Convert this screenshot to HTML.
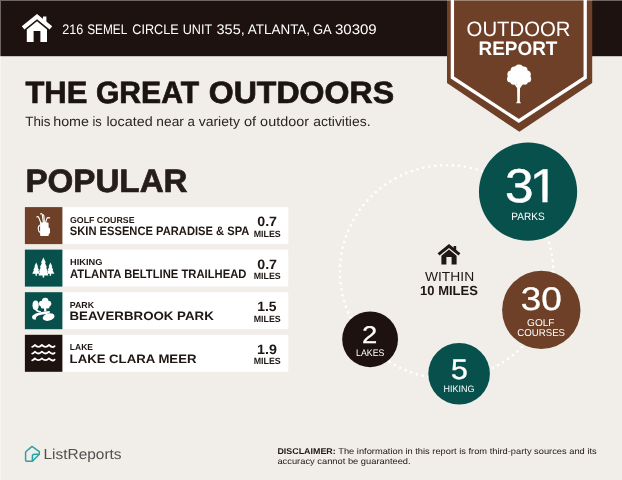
<!DOCTYPE html>
<html lang="en">
<head>
<meta charset="utf-8">
<title>Outdoor Report</title>
<style>
html,body{margin:0;padding:0;background:#f1ede9;}
body{width:622px;height:480px;overflow:hidden;font-family:"Liberation Sans",sans-serif;}
svg{display:block;position:absolute;left:0;top:0;}
text{font-family:"Liberation Sans",sans-serif;}
</style>
</head>
<body>
<svg width="622" height="480" viewBox="0 0 622 480">
<g style="filter:blur(0.3px)">
<rect x="-6" y="-6" width="634" height="492" fill="#f1ede9"/>
<!-- header -->
<rect x="-6" y="-6" width="634" height="62.2" fill="#1e1210"/>
<!-- header house icon -->
<g fill="#fff">
<path d="M37 14 L52.2 26.2 L49.6 29.4 L37 19.2 L24.4 29.4 L21.8 26.2 Z"/>
<path d="M43 16.6 h3.4 v7 l-3.4 -2.8 Z"/>
<path d="M37 21.2 L47 29.4 V42 H40.4 V31 H33.6 V42 H26.8 V29.4 Z"/>
</g>
<!-- badge -->
<path d="M447 -6 H592.2 V83 L519.4 131.8 L447 83 Z" fill="#6d4027"/>
<path d="M452.4 -6 V77.5 L518.8 121 L585.2 77.5 V-6" fill="none" stroke="#fff" stroke-width="3.3"/>
<!-- tree -->
<g fill="#fff">
<circle cx="519" cy="69.6" r="5"/><circle cx="514.6" cy="70.6" r="4"/><circle cx="523.6" cy="70.6" r="4"/>
<circle cx="511.4" cy="74.5" r="4"/><circle cx="526.8" cy="74.5" r="4"/>
<circle cx="510.6" cy="79" r="3.6"/><circle cx="527.6" cy="79" r="3.6"/>
<circle cx="513.6" cy="81.6" r="3.2"/><circle cx="524.6" cy="81.6" r="3.2"/><circle cx="519" cy="81.4" r="3.4"/>
<circle cx="519" cy="76" r="7"/>
<path d="M517.1 86 L517.3 101.2 L516 103.3 H521 L519.8 101.2 L520.1 86 Z"/>
<path d="M513.6 83.4 L517.6 88.4 L518.8 86.6 L515.4 83.2 Z M523.6 83.4 L519.6 88.4 L518.4 86.6 L521.8 83.2 Z"/>
<path d="M516.5 83 H521 L520.2 88 H517 Z"/>
</g>
<!-- rows -->
<g fill="#fff">
<rect x="62" y="207.1" width="226.3" height="37"/>
<rect x="62" y="249.6" width="226.3" height="37"/>
<rect x="62" y="292.2" width="226.3" height="37"/>
<rect x="62" y="334.8" width="226.3" height="37"/>
</g>
<rect x="24.9" y="207.1" width="37.5" height="37" fill="#6d4027"/>
<rect x="24.9" y="249.6" width="37.5" height="37" fill="#07504c"/>
<rect x="24.9" y="292.2" width="37.5" height="37" fill="#07504c"/>
<rect x="24.9" y="334.8" width="37.5" height="37" fill="#1e1210"/>
<!-- golf bag -->
<g fill="none" stroke="#fff" stroke-width="1.15" stroke-linecap="round" stroke-linejoin="round">
<path d="M40.9 223 L38.8 217.6 Q38 216 36.8 216.9"/>
<path d="M43.4 223 L42.3 214.6 Q41.8 213.2 40.6 213.9"/>
<path d="M44.4 223 L43.9 216 Q43.7 214.6 42.9 215"/>
<path d="M45.4 223 L46.9 218.4 Q47.6 217.2 49.6 217.9"/>
<path d="M40.2 225 Q38 226 38.3 229 Q38.6 231.8 40.2 232.4"/>
</g>
<path d="M40.6 222.6 H47.8 Q48.6 222.6 48.6 223.4 V227.6 Q50 227.8 50 229.2 V232.6 Q50 233.8 48.8 234 V235 Q48.8 235.9 47.9 235.9 H41 Q40.1 235.9 40.1 235 V223.2 Q40.1 222.6 40.6 222.6 Z" fill="#fff"/>
<!-- pines -->
<g fill="#fff">
<path d="M43.4 257.4 L45.9 262.8 H44.9 L47 267.4 H46 L48 271.8 H46.8 L48.4 275.4 H44.2 V277.4 H42.6 V275.4 H38.4 L40 271.8 H38.8 L40.8 267.4 H39.8 L41.9 262.8 H40.9 Z"/>
<path d="M36.2 262.6 L38.1 266.6 H37.4 L39 270 H38.3 L39.8 273.8 H36.9 V275.8 H35.5 V273.8 H32.2 L34 270 H33.3 L35 266.6 H34.3 Z"/>
<path d="M50.4 262.6 L52.3 266.6 H51.6 L53.2 270 H52.5 L54.3 273.8 H51.1 V275.8 H49.7 V273.8 H46.9 L48.4 270 H47.7 L49.3 266.6 H48.6 Z"/>
</g>
<!-- park -->
<g fill="#fff">
<circle cx="45.2" cy="300.9" r="3.2"/><circle cx="41.8" cy="303.6" r="2.9"/><circle cx="48.4" cy="303.6" r="2.9"/><circle cx="45.2" cy="304.8" r="3.4"/><circle cx="43" cy="306.4" r="2.2"/><circle cx="47.4" cy="306.4" r="2.2"/>
<path d="M44 307 L44.2 311.6 L46.4 311.4 L46.2 307 Z"/>
<ellipse cx="35.6" cy="305.2" rx="3.1" ry="4.7"/>
<path d="M34.8 309 Q35.6 312.4 40.6 312.6 L41 311 Q37.4 311.2 36.8 308.6 Z"/>
<path d="M49.8 311 Q45 311.6 40.4 312.2 Q35 313.2 32.6 315.6 Q31.2 317.6 32.8 319 Q34.2 319.8 36 319.4 Q35.6 318 36.6 316.6 Q38.4 314.9 42.6 314.6 Q46.6 314.4 49.8 312.8 Z"/>
<ellipse cx="48.6" cy="317.1" rx="6" ry="3.6" transform="rotate(-14 48.6 317.1)"/>
</g>
<!-- waves -->
<g fill="none" stroke="#fff" stroke-width="1.8" stroke-linecap="round" stroke-linejoin="round">
<path d="M32.2 346.9 Q33.6 346.7 34.9 345 Q38.4 348.6 41.9 345 Q45.5 348.6 49 345 Q52.4 348.4 54.6 346.2"/>
<path d="M32.2 353.6 Q33.6 353.4 34.9 351.7 Q38.4 355.3 41.9 351.7 Q45.5 355.3 49 351.7 Q52.4 355.1 54.6 352.9"/>
<path d="M32.2 360.3 Q33.6 360.1 34.9 358.4 Q38.4 362 41.9 358.4 Q45.5 362 49 358.4 Q52.4 361.8 54.6 359.6"/>
</g>
<!-- ring -->
<circle cx="446.6" cy="271.8" r="106.6" fill="none" stroke="#fff" stroke-width="2.6" stroke-dasharray="0.01 5.970" stroke-linecap="round"/>
<!-- circles -->
<circle cx="528.05" cy="191.7" r="49.1" fill="#07504c"/>
<circle cx="541.3" cy="309.9" r="39.2" fill="#6d4027"/>
<circle cx="459.1" cy="373.7" r="30.8" fill="#07504c"/>
<circle cx="370.1" cy="339.3" r="27.9" fill="#1e1210"/>
<!-- center house -->
<g fill="#1f1713">
<path d="M449 244 L460.4 253.2 L458.5 255.6 L449 247.9 L439.5 255.6 L437.6 253.2 Z"/>
<path d="M453.6 246 h2.6 v5 l-2.6 -2.1 Z"/>
<path d="M449 249.6 L456.6 255.8 V264.4 H451.6 V257 H446.4 V264.4 H441.4 V255.8 Z"/>
</g>
<!-- logo -->
<g fill="none" stroke="#2ca3a3" stroke-width="1.5" stroke-linejoin="round" stroke-linecap="round">
<path d="M39.3 454.2 H34.4 Q32.4 454.2 32.4 456.2 V461.2 Z" fill="#c9f3f0" stroke="none"/>
<path d="M25.6 452 L32 446.4 L39.3 451.6 V454.2 L32.4 461.2 H26.6 Q25.6 461.2 25.6 460.2 Z"/>
<path d="M39.3 454.2 H34.4 Q32.4 454.2 32.4 456.2 V461.2"/>
</g>

<defs><clipPath id="c1"><path d="M500 150 H560 V197.40 H547.55 V206 H542.40 V197.40 H533 V206 H500 Z"/></clipPath></defs>
<g id="texts">
<text id="addr0" transform="translate(62.15 34.05) skewX(0.03)" font-size="13.8" fill="#fff" textLength="21.07" lengthAdjust="spacingAndGlyphs">216</text>
<text id="addr1" transform="translate(87.17 34.05) skewX(0.03)" font-size="13.8" fill="#fff" textLength="40.10" lengthAdjust="spacingAndGlyphs">SEMEL</text>
<text id="addr2" transform="translate(132.28 34.05) skewX(0.03)" font-size="13.8" fill="#fff" textLength="46.29" lengthAdjust="spacingAndGlyphs">CIRCLE</text>
<text id="addr3" transform="translate(182.75 34.05) skewX(0.03)" font-size="13.8" fill="#fff" textLength="29.46" lengthAdjust="spacingAndGlyphs">UNIT</text>
<text id="addr4" transform="translate(216.54 34.05) skewX(0.03)" font-size="13.8" fill="#fff" textLength="28.18" lengthAdjust="spacingAndGlyphs">355,</text>
<text id="addr5" transform="translate(247.85 34.05) skewX(0.03)" font-size="13.8" fill="#fff" textLength="62.18" lengthAdjust="spacingAndGlyphs">ATLANTA,</text>
<text id="addr6" transform="translate(313.03 34.05) skewX(0.03)" font-size="13.8" fill="#fff" textLength="18.73" lengthAdjust="spacingAndGlyphs">GA</text>
<text id="addr7" transform="translate(334.89 34.05) skewX(0.03)" font-size="13.8" fill="#fff" textLength="41.85" lengthAdjust="spacingAndGlyphs">30309</text>
<text id="outdoor" transform="translate(466.59 36.45) skewX(0.03)" font-size="20.8" fill="#fff" textLength="103.95" lengthAdjust="spacingAndGlyphs">OUTDOOR</text>
<text id="report" transform="translate(478.45 54.70) skewX(0.03)" font-size="19.6" fill="#fff" font-weight="700" textLength="78.98" lengthAdjust="spacingAndGlyphs">REPORT</text>
<text id="the" transform="translate(25.44 103.15) skewX(0.03)" font-size="30.8" fill="#1c1411" font-weight="700" stroke="#1c1411" stroke-width="0.7" textLength="61.89" lengthAdjust="spacingAndGlyphs">THE</text>
<text id="great" transform="translate(95.93 103.15) skewX(0.03)" font-size="30.8" fill="#1c1411" font-weight="700" stroke="#1c1411" stroke-width="0.7" textLength="103.14" lengthAdjust="spacingAndGlyphs">GREAT</text>
<text id="outdoors" transform="translate(208.67 103.15) skewX(0.03)" font-size="30.8" fill="#1c1411" font-weight="700" stroke="#1c1411" stroke-width="0.7" textLength="185.48" lengthAdjust="spacingAndGlyphs">OUTDOORS</text>
<text id="sub0" transform="translate(25.19 125.75) skewX(0.03)" font-size="13.5" fill="#2b2522" textLength="25.34" lengthAdjust="spacingAndGlyphs">This</text>
<text id="sub1" transform="translate(53.17 125.75) skewX(0.03)" font-size="13.5" fill="#2b2522" textLength="35.84" lengthAdjust="spacingAndGlyphs">home</text>
<text id="sub2" transform="translate(92.51 125.75) skewX(0.03)" font-size="13.5" fill="#2b2522" textLength="9.26" lengthAdjust="spacingAndGlyphs">is</text>
<text id="sub3" transform="translate(106.41 125.75) skewX(0.03)" font-size="13.5" fill="#2b2522" textLength="46.27" lengthAdjust="spacingAndGlyphs">located</text>
<text id="sub4" transform="translate(156.36 125.75) skewX(0.03)" font-size="13.5" fill="#2b2522" textLength="27.53" lengthAdjust="spacingAndGlyphs">near</text>
<text id="sub5" transform="translate(187.41 125.75) skewX(0.03)" font-size="13.5" fill="#2b2522" textLength="7.39" lengthAdjust="spacingAndGlyphs">a</text>
<text id="sub6" transform="translate(198.63 125.75) skewX(0.03)" font-size="13.5" fill="#2b2522" textLength="41.26" lengthAdjust="spacingAndGlyphs">variety</text>
<text id="sub7" transform="translate(243.96 125.75) skewX(0.03)" font-size="13.5" fill="#2b2522" textLength="12.19" lengthAdjust="spacingAndGlyphs">of</text>
<text id="sub8" transform="translate(260.12 125.75) skewX(0.03)" font-size="13.5" fill="#2b2522" textLength="48.83" lengthAdjust="spacingAndGlyphs">outdoor</text>
<text id="sub9" transform="translate(313.24 125.75) skewX(0.03)" font-size="13.5" fill="#2b2522" textLength="57.28" lengthAdjust="spacingAndGlyphs">activities.</text>
<text id="popular" transform="translate(25.38 192.30) skewX(0.03)" font-size="32.4" fill="#241d1a" font-weight="700" stroke="#241d1a" stroke-width="0.7" textLength="162.17" lengthAdjust="spacingAndGlyphs">POPULAR</text>
<text id="cat0" transform="translate(69.92 222.70) skewX(0.03)" font-size="8.7" fill="#1f1713" font-weight="700" textLength="64.62" lengthAdjust="spacingAndGlyphs">GOLF COURSE</text>
<text id="name0" transform="translate(69.75 235.20) skewX(0.03)" font-size="12.2" fill="#1f1713" font-weight="700" textLength="179.64" lengthAdjust="spacingAndGlyphs">SKIN ESSENCE PARADISE &amp; SPA</text>
<text id="num0" transform="translate(257.22 226.00) skewX(0.03)" font-size="13.6" fill="#1f1713" font-weight="700" textLength="19.85" lengthAdjust="spacingAndGlyphs">0.7</text>
<text id="mi0" transform="translate(253.63 236.50) skewX(0.03)" font-size="9.0" fill="#1f1713" font-weight="700" textLength="27.08" lengthAdjust="spacingAndGlyphs">MILES</text>
<text id="cat1" transform="translate(69.99 265.20) skewX(0.03)" font-size="8.7" fill="#1f1713" font-weight="700" textLength="32.33" lengthAdjust="spacingAndGlyphs">HIKING</text>
<text id="name1" transform="translate(70.00 277.70) skewX(0.03)" font-size="12.2" fill="#1f1713" font-weight="700" textLength="176.45" lengthAdjust="spacingAndGlyphs">ATLANTA BELTLINE TRAILHEAD</text>
<text id="num1" transform="translate(257.22 268.50) skewX(0.03)" font-size="13.6" fill="#1f1713" font-weight="700" textLength="19.85" lengthAdjust="spacingAndGlyphs">0.7</text>
<text id="mi1" transform="translate(253.63 279.00) skewX(0.03)" font-size="9.0" fill="#1f1713" font-weight="700" textLength="27.08" lengthAdjust="spacingAndGlyphs">MILES</text>
<text id="cat2" transform="translate(69.72 307.80) skewX(0.03)" font-size="8.7" fill="#1f1713" font-weight="700" textLength="24.35" lengthAdjust="spacingAndGlyphs">PARK</text>
<text id="name2" transform="translate(69.51 320.30) skewX(0.03)" font-size="12.2" fill="#1f1713" font-weight="700" textLength="144.29" lengthAdjust="spacingAndGlyphs">BEAVERBROOK PARK</text>
<text id="num2" transform="translate(257.14 311.10) skewX(0.03)" font-size="13.6" fill="#1f1713" font-weight="700" textLength="19.36" lengthAdjust="spacingAndGlyphs">1.5</text>
<text id="mi2" transform="translate(253.63 321.60) skewX(0.03)" font-size="9.0" fill="#1f1713" font-weight="700" textLength="27.08" lengthAdjust="spacingAndGlyphs">MILES</text>
<text id="cat3" transform="translate(69.86 350.40) skewX(0.03)" font-size="8.7" fill="#1f1713" font-weight="700" textLength="23.11" lengthAdjust="spacingAndGlyphs">LAKE</text>
<text id="name3" transform="translate(69.58 362.90) skewX(0.03)" font-size="12.2" fill="#1f1713" font-weight="700" textLength="126.86" lengthAdjust="spacingAndGlyphs">LAKE CLARA MEER</text>
<text id="num3" transform="translate(256.99 353.70) skewX(0.03)" font-size="13.6" fill="#1f1713" font-weight="700" textLength="19.84" lengthAdjust="spacingAndGlyphs">1.9</text>
<text id="mi3" transform="translate(253.63 364.20) skewX(0.03)" font-size="9.0" fill="#1f1713" font-weight="700" textLength="27.08" lengthAdjust="spacingAndGlyphs">MILES</text>
<text id="parks" transform="translate(511.24 219.80) skewX(0.03)" font-size="10.7" fill="#fff" textLength="33.42" lengthAdjust="spacingAndGlyphs">PARKS</text>
<text id="n30" transform="translate(520.68 310.30) skewX(0.03)" font-size="32.6" fill="#fff" stroke="#fff" stroke-width="0.3" textLength="41.07" lengthAdjust="spacingAndGlyphs">30</text>
<text id="golf" transform="translate(527.04 325.80) skewX(0.03)" font-size="10" fill="#fff" textLength="27.47" lengthAdjust="spacingAndGlyphs">GOLF</text>
<text id="courses" transform="translate(517.19 336.10) skewX(0.03)" font-size="10" fill="#fff" textLength="47.88" lengthAdjust="spacingAndGlyphs">COURSES</text>
<text id="n5" transform="translate(451.04 378.60) skewX(0.03)" font-size="28.3" fill="#fff" stroke="#fff" stroke-width="0.4" textLength="16.80" lengthAdjust="spacingAndGlyphs">5</text>
<text id="hiking" transform="translate(443.60 391.80) skewX(0.03)" font-size="9.3" fill="#fff" textLength="30.93" lengthAdjust="spacingAndGlyphs">HIKING</text>
<text id="n2" transform="translate(362.09 343.10) skewX(0.03)" font-size="24.2" fill="#fff" stroke="#fff" stroke-width="0.3" textLength="15.25" lengthAdjust="spacingAndGlyphs">2</text>
<text id="lakes" transform="translate(356.02 355.70) skewX(0.03)" font-size="9.5" fill="#fff" textLength="28.39" lengthAdjust="spacingAndGlyphs">LAKES</text>
<text id="within" transform="translate(424.98 281.30) skewX(0.03)" font-size="13.2" fill="#1f1713" textLength="49.15" lengthAdjust="spacingAndGlyphs">WITHIN</text>
<text id="tenmiles" transform="translate(420.06 295.00) skewX(0.03)" font-size="13.1" fill="#1f1713" font-weight="700" textLength="57.83" lengthAdjust="spacingAndGlyphs">10 MILES</text>
<text id="lr" transform="translate(43.49 458.90) skewX(0.03)" font-size="14.5" fill="#505050" textLength="78.08" lengthAdjust="spacingAndGlyphs">ListReports</text>
<text id="disc1a" transform="translate(277.40 453.70) skewX(0.03)" font-size="8.4" fill="#1f1713" font-weight="700" textLength="58.35" lengthAdjust="spacingAndGlyphs">DISCLAIMER:</text>
<text id="disc1b" transform="translate(338.21 453.70) skewX(0.03)" font-size="8.4" fill="#1f1713" textLength="258.48" lengthAdjust="spacingAndGlyphs">The information in this report is from third-party sources and its</text>
<text id="disc2" transform="translate(277.40 463.50) skewX(0.03)" font-size="8.4" fill="#1f1713" textLength="133.26" lengthAdjust="spacingAndGlyphs">accuracy cannot be guaranteed.</text>
<g clip-path="url(#c1)"><text id="n31" transform="translate(0 201.8) skewX(0.03) scale(1.0842 1)" x="465.81 488.51" y="0" font-size="47.5" fill="#fff" stroke="#fff" stroke-width="0.4">31</text></g>
</g>
<rect x="-6" y="0" width="634" height="1" fill="#fff" opacity="0.36"/>
<rect x="0" y="1" width="1" height="485" fill="#fff" opacity="0.36"/>

</g>
</svg>
</body>
</html>
